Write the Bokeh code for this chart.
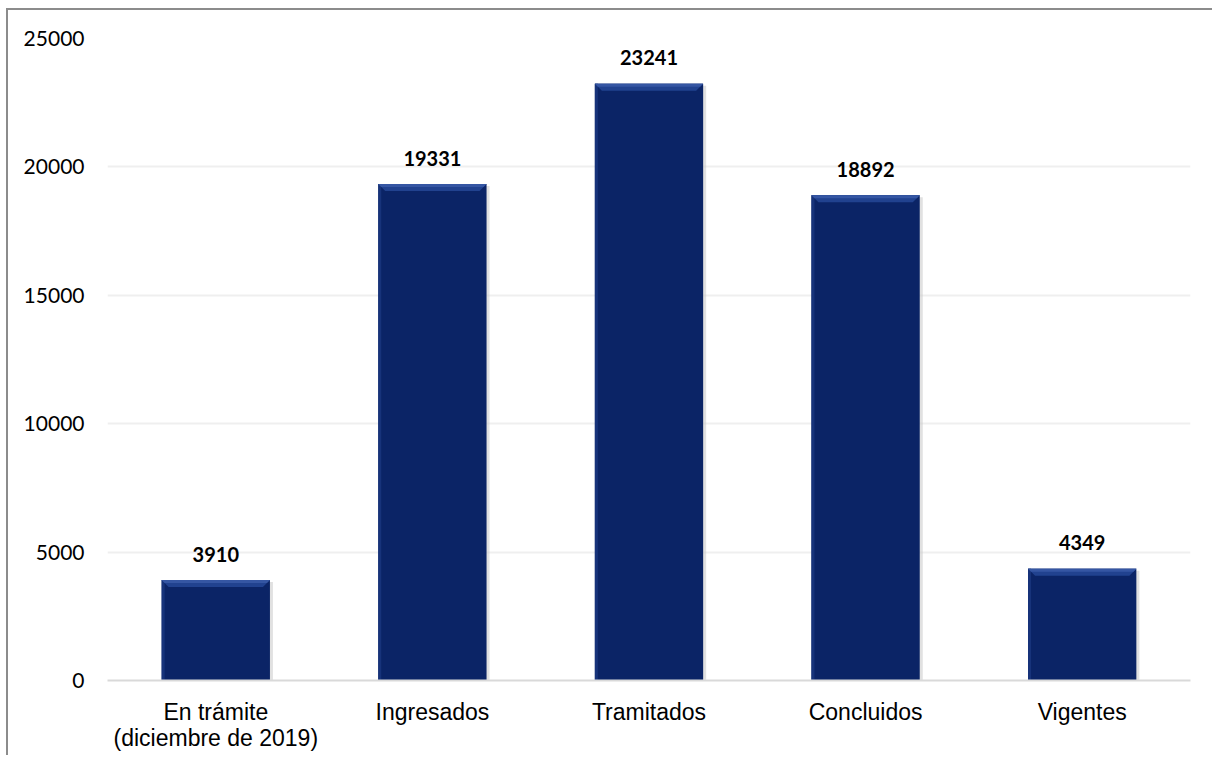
import numpy as np
from bokeh.plotting import figure
from bokeh.models import FixedTicker, ColumnDataSource
from bokeh.core.properties import value
from bokeh.embed import file_html
from bokeh.resources import INLINE

# ---- data ----
categories = ["En trámite\n(diciembre de 2019)", "Ingresados", "Tramitados", "Concluidos", "Vigentes"]
counts = [3910, 19331, 23241, 18892, 4349]
y_ticks = [0, 5000, 10000, 15000, 20000, 25000]

# ---- layout constants ----
TOP, FRAME_H, BOTTOM = 28, 642, 77
LEFT, FRAME_W, RIGHT = 99, 1083, 24
W, H = LEFT + FRAME_W + RIGHT, TOP + FRAME_H + BOTTOM
Y_MAX = 25000
px_y = Y_MAX / FRAME_H
px_x = len(categories) / FRAME_W

pos = np.arange(len(categories)) + 0.5
vals = np.array(counts, dtype=float)
bw = 0.5

p = figure(width=W, height=H, x_range=(0, len(categories)), y_range=(0, Y_MAX),
           output_backend="svg", toolbar_location=None,
           min_border_left=LEFT, min_border_right=RIGHT, min_border_top=TOP, min_border_bottom=BOTTOM)
p.styles = {"border-top": "2px solid #8c8c8c", "border-left": "2px solid #8c8c8c",
            "margin-left": "6px", "margin-top": "8px"}
p.outline_line_color = None
p.background_fill_color = "white"
p.border_fill_color = "white"

# grid
p.xgrid.grid_line_color = None
p.ygrid.ticker = FixedTicker(ticks=y_ticks)
p.ygrid.grid_line_color = "#efefef"
p.ygrid.grid_line_width = 2

# y axis
p.yaxis.ticker = FixedTicker(ticks=y_ticks)
p.yaxis.axis_line_color = None
p.yaxis.major_tick_line_color = None
p.yaxis.minor_tick_line_color = None
p.yaxis.major_label_text_font = "Lato"
p.yaxis.major_label_text_font_size = "21px"
p.yaxis.major_label_text_color = "#000000"
p.yaxis.major_label_standoff = 17

# x axis
p.xaxis.ticker = FixedTicker(ticks=list(pos))
p.xaxis.major_label_overrides = {float(x): c for x, c in zip(pos, categories)}
p.xaxis.axis_line_color = "#d9d9d9"
p.xaxis.axis_line_width = 2
p.xaxis.major_tick_line_color = None
p.xaxis.minor_tick_line_color = None
p.xaxis.major_label_text_font = "Liberation Sans"
p.xaxis.major_label_text_font_size = "23px"
p.xaxis.major_label_text_color = "#000000"
p.xaxis.major_label_text_line_height = 1.0
p.xaxis.major_label_standoff = 12

# shadow
p.vbar(x=pos + 3 * px_x, top=vals - 2 * px_y, width=bw, bottom=0,
       fill_color="#c8c8c8", fill_alpha=0.55, line_color=None)
# main bars
p.vbar(x=pos, top=vals, width=bw, bottom=0, fill_color="#0b2466", line_color=None)
# left lighter edge
p.vbar(x=pos - bw / 2 + 1.5 * px_x, top=vals, width=3 * px_x, bottom=0,
       fill_color="#17337a", line_color=None)
# top bevel
bev_h = 7 * px_y
bev_d = 7 * px_x
xs, ys = [], []
for x, v in zip(pos, vals):
    x0, x1 = x - bw / 2, x + bw / 2
    xs.append([x0, x1, x1 - bev_d, x0 + bev_d])
    ys.append([v, v, v - bev_h, v - bev_h])
p.patches(xs, ys, fill_color="#21428f", line_color=None)
xs2, ys2 = [], []
for x, v in zip(pos, vals):
    x0, x1 = x - bw / 2, x + bw / 2
    xs2.append([x0, x1, x1 - 3 * px_x, x0 + 3 * px_x])
    ys2.append([v, v, v - 3 * px_y, v - 3 * px_y])
p.patches(xs2, ys2, fill_color="#3556a3", line_color=None)

# data labels
src = ColumnDataSource(dict(x=pos, y=vals, t=[str(c) for c in counts]))
p.text(x="x", y="y", text="t", source=src, y_offset=-26,
       text_align="center", text_baseline="alphabetic",
       text_font=value("Lato"), text_font_style="bold", text_font_size="20px",
       text_color="#000000")

open("out.html", "w").write(file_html(p, INLINE))
